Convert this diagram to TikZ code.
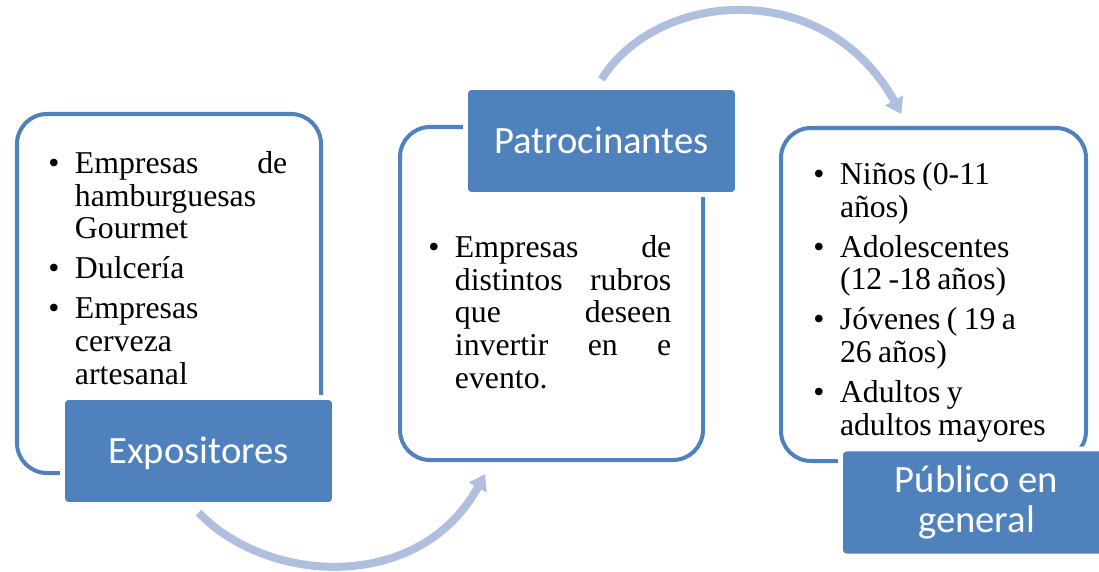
\documentclass[tikz,border=0pt]{standalone}
\usepackage{fontspec}
\setmainfont{Liberation Serif}
\newfontfamily\calibri{Carlito}
\usetikzlibrary{arrows.meta}
\definecolor{azul}{RGB}{79,129,189}
\definecolor{celeste}{RGB}{174,192,221}
\hyphenpenalty=10000
\exhyphenpenalty=10000
\tolerance=10000
\newcommand{\punto}{\par\hangindent=19pt\hangafter=1\noindent\makebox[19pt][l]{\textbullet}}
\newcommand{\otro}{\par\vspace{5pt}\punto}
\newcommand{\apretado}{\spaceskip=0.2em plus 0.1em minus 0.05em\relax}
\begin{document}
\begin{tikzpicture}
\tikzstyle{marco}=[draw=azul, line width=2.85pt, fill=white, rounded corners=0.75cm, minimum width=7.6cm, minimum height=8.975cm]
\tikzstyle{titulo}=[fill=azul, draw=white, line width=3.5pt, rounded corners=0.15cm, minimum width=6.8cm, minimum height=2.675cm, text=white, font=\calibri\fontsize{27.5}{28.5}\selectfont, align=center]
\tikzstyle{lista}=[anchor=north west, inner sep=0pt, font=\fontsize{22.6}{23.4}\selectfont]
\tikzstyle{flecha}=[celeste, line width=5.7pt, -{Triangle[width=14pt,length=11pt]}]
\useasboundingbox (0,0) rectangle (27.475,14.275);
    % recuadros
    \node [marco] (expob) at (4.225,6.9375) {};
    \node [marco, minimum width=7.575cm, minimum height=8.325cm] (patrob) at (13.7875,6.9375) {};
    \node [marco, minimum width=7.625cm, minimum height=8.325cm] (pubb) at (23.3375,6.9125) {};
    % listas
    \node [lista, text width=5.975cm, align=justify] (expol) at (1.2,10.775)
        {\apretado\punto Empresas de\linebreak hamburguesas\newline Gourmet\otro Dulcería\otro Empresas\newline cerveza\newline artesanal\par};
    \node [lista, text width=6.075cm, align=justify] (patrol) at (10.7,8.675)
        {\apretado\punto Empresas de\linebreak distintos rubros\linebreak que deseen\linebreak invertir en e\linebreak evento.\par};
    \node [lista, text width=6.2cm, align=left] (publ) at (20.325,10.5)
        {\apretado\punto Niños (0-11\newline años)\otro Adolescentes\newline (12 -18 años)\otro Jóvenes ( 19 a\newline 26 años)\otro Adultos y\newline adultos mayores\par};
    % titulos
    \node [titulo, text height=17.7pt, text depth=0pt] (expo) at (4.9625,3.0) {Expositores};
    \node [titulo, text height=17.7pt, text depth=0pt] (patro) at (15.0375,10.75) {Patrocinantes};
    \node [titulo] (pub) at (24.4125,1.7125) {Público en\\general};
    % flechas
    \draw [flecha] ([yshift=4pt]patro.north) .. controls (16.4,14.5) and (20.6,14.9) .. ([xshift=-0.8cm,yshift=0.3cm]pubb.north);
    \draw [flecha] ([yshift=-0.14cm]expo.south) .. controls (6.7,-0.35) and (10.5,-0.55) .. ([xshift=-1.66cm,yshift=-0.3cm]patrob.south);
\end{tikzpicture}
\end{document}
